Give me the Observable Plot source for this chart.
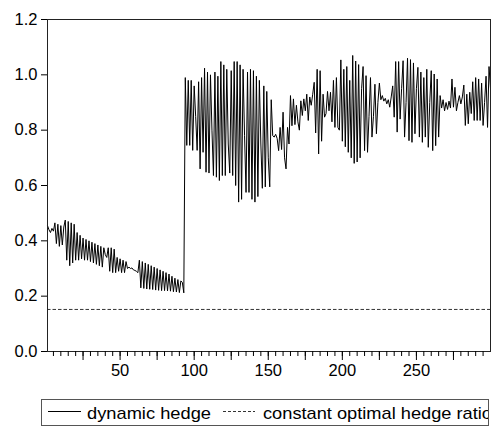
<!DOCTYPE html>
<html><head><meta charset="utf-8">
<script src="https://cdn.jsdelivr.net/npm/d3@7"></script>
<script src="https://cdn.jsdelivr.net/npm/@observablehq/plot@0.6"></script>
<style>
body{margin:0;background:#fff;font-family:"Liberation Sans",Arial,sans-serif;}
#wrap{position:relative;width:498px;height:427px;overflow:hidden;}
#legend{position:absolute;left:41px;top:399px;width:448px;height:27px;border:1px solid #555;box-sizing:border-box;overflow:hidden;background:#fff;}
</style></head><body><div id="wrap"><div id="chart"></div><div id="legend"></div></div>
<script>
// dynamic hedge ratio, t = 1..93
const segA = [0.455,0.44,0.43,0.445,0.435,0.465,0.39,0.46,0.38,0.455,
0.385,0.45,0.475,0.33,0.47,0.31,0.465,0.32,0.46,0.33,
0.43,0.33,0.42,0.335,0.41,0.33,0.405,0.33,0.40,0.325,
0.395,0.32,0.39,0.315,0.385,0.31,0.38,0.305,0.375,0.35,
0.34,0.375,0.29,0.375,0.285,0.37,0.285,0.34,0.29,0.335,
0.285,0.33,0.285,0.325,0.30,0.305,0.30,0.302,0.295,0.293,
0.29,0.285,0.33,0.23,0.325,0.228,0.32,0.226,0.315,0.225,
0.31,0.224,0.305,0.222,0.30,0.221,0.295,0.22,0.29,0.22,
0.285,0.219,0.28,0.218,0.272,0.216,0.265,0.215,0.26,0.213,
0.255,0.25,0.212];
// t = 94..152
const segB = [0.99,0.745,0.98,0.745,0.98,0.727,0.96,0.85,0.727,0.975,
0.66,0.99,0.72,1.024,0.648,1.01,0.645,1.0,0.80,0.636,
1.01,0.63,0.995,0.618,1.048,0.636,1.036,0.636,1.02,0.75,
0.645,1.015,0.636,1.048,0.60,1.048,0.54,1.036,0.55,1.02,
0.78,0.575,1.01,0.575,1.02,0.55,1.015,0.54,0.995,0.56,
0.98,0.75,0.59,0.96,0.595,0.94,0.70,0.595,0.91];
// t = 153..224
const segC = [0.78,0.775,0.785,0.77,0.726,0.81,0.73,0.865,0.70,0.66,
0.81,0.75,0.925,0.816,0.913,0.82,0.89,0.83,0.80,0.906,
0.853,0.913,0.87,0.93,0.835,0.92,0.89,0.93,0.973,0.79,
1.02,0.714,1.015,0.76,0.93,0.847,0.86,0.94,0.87,0.937,
0.83,0.98,0.81,0.99,0.81,0.80,1.054,0.76,1.02,0.74,
1.03,0.72,0.98,0.70,1.07,0.68,1.05,0.685,1.037,0.70,
0.95,1.03,0.726,0.997,0.72,0.85,0.99,0.775,0.85,0.966,
0.787,0.90];
// t = 225..300
const segD = [0.97,0.91,0.925,0.905,0.915,0.895,0.91,0.883,0.92,0.96,
0.847,1.048,0.793,1.048,0.84,0.95,1.051,0.775,0.90,1.06,
0.762,1.055,0.756,1.043,0.787,0.95,1.027,0.775,1.01,0.756,
0.99,0.775,1.02,0.738,0.90,1.015,0.726,1.003,0.744,0.985,
0.775,0.925,0.88,0.91,0.87,0.90,0.875,0.905,0.88,0.985,
0.883,0.955,0.87,0.90,0.925,0.895,0.92,0.963,0.817,0.93,
0.823,0.937,0.86,0.975,0.835,0.99,0.835,0.985,0.835,0.97,
0.817,0.90,0.995,0.81,1.03,0.95];
const constantRatio = 0.152;
const seriesNames = ["dynamic hedge", "constant optimal hedge ratio"];
const yTicks = [0, 0.2, 0.4, 0.6, 0.8, 1.0, 1.2];
const xLabels = [50, 100, 150, 200, 250];
const xMajor = [25, 50, 75, 100, 125, 150, 175, 200, 225, 250, 275];
const xMinor = d3.range(5, 300, 5);

const hedge = [...segA, ...segB, ...segC, ...segD];
const data = hedge.map((v, i) => ({t: i + 1, v}));

const plot = Plot.plot({
  width: 498, height: 390,
  marginLeft: 47, marginTop: 19, marginRight: 8, marginBottom: 39,
  style: {fontFamily: "Liberation Sans, Arial, sans-serif", fontSize: "16.5px", color: "#000", background: "#fff"},
  x: {domain: [1, 300]},
  y: {domain: [0, 1.2]},
  marks: [
    Plot.ruleY([constantRatio], {stroke: "#333", strokeDasharray: "3.5,2", strokeWidth: 1}),
    Plot.lineY(data, {x: "t", y: "v", stroke: "#000", strokeWidth: 1}),
    Plot.frame({stroke: "#222"}),
    Plot.axisY({ticks: yTicks, tickSize: 6, tickPadding: 4, tickFormat: d3.format(".1f"), label: null, fontSize: 16.5}),
    Plot.axisX({ticks: xMinor, tickSize: 5, tickFormat: () => "", label: null}),
    Plot.axisX({ticks: xMajor, tickSize: 9, tickPadding: 4, tickFormat: d => xLabels.includes(d) ? String(d) : "", label: null, fontSize: 16.5})
  ]
});
document.getElementById("chart").appendChild(plot);

// legend
const lg = d3.select("#legend").append("svg").attr("width", 446).attr("height", 25)
  .style("display", "block").style("overflow", "hidden");
lg.append("line").attr("x1", 6).attr("x2", 39).attr("y1", 11.5).attr("y2", 11.5).attr("stroke", "#000");
lg.append("text").attr("x", 45).attr("y", 19).attr("font-size", 17).attr("textLength", 124)
  .attr("lengthAdjust", "spacingAndGlyphs").attr("fill", "#000").text(seriesNames[0]);
lg.append("line").attr("x1", 181).attr("x2", 213).attr("y1", 11.5).attr("y2", 11.5)
  .attr("stroke", "#333").attr("stroke-dasharray", "3,2");
lg.append("text").attr("x", 221).attr("y", 19).attr("font-size", 17).attr("textLength", 229)
  .attr("lengthAdjust", "spacingAndGlyphs").attr("fill", "#000").text(seriesNames[1]);
</script></body></html>
